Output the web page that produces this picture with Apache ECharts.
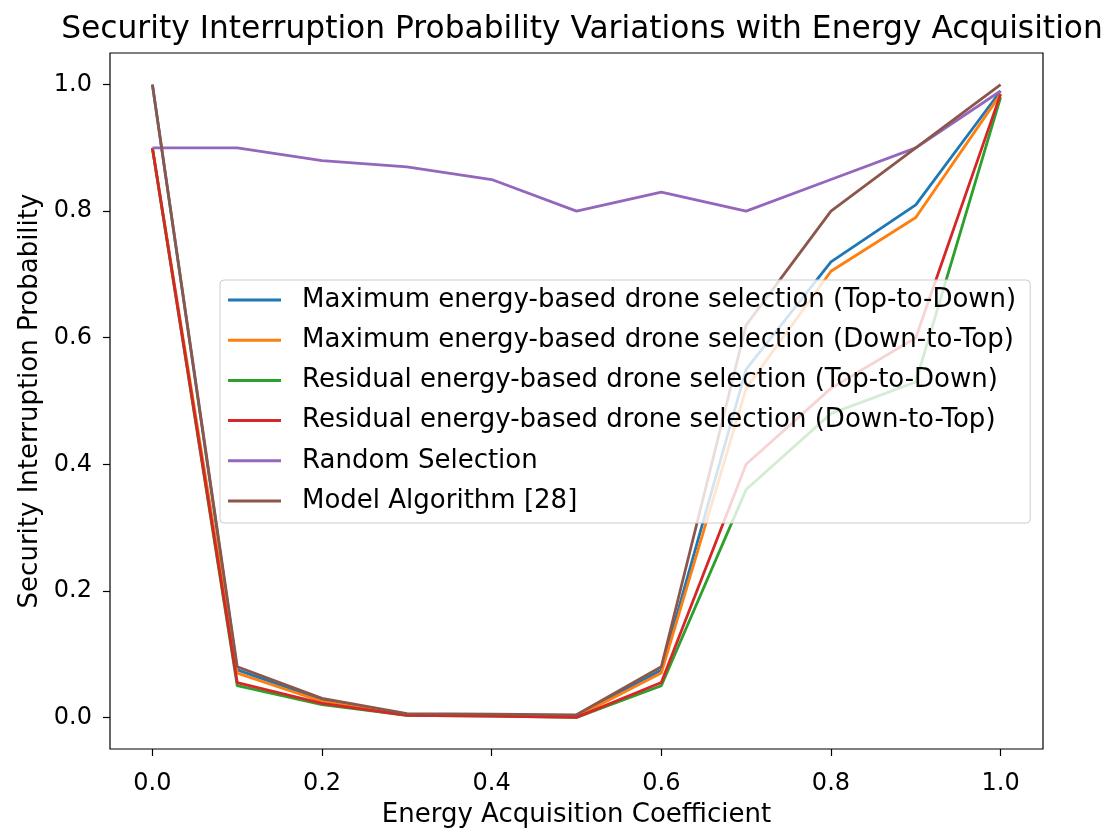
<!DOCTYPE html>
<html><head><meta charset="utf-8">
<script src="https://cdn.jsdelivr.net/npm/echarts@6/dist/echarts.min.js"></script>
<style>html,body{margin:0;padding:0;background:#fff}#c{width:1102px;height:828px}</style>
</head><body><div id="c"></div>
<script>
const xValues = [0.0, 0.1, 0.2, 0.3, 0.4, 0.5, 0.6, 0.7, 0.8, 0.9, 1.0];
const maxTopDown   = [1.0, 0.075, 0.028, 0.005, 0.003, 0.002, 0.075, 0.55, 0.72, 0.81, 0.99];
const maxDownTop   = [0.9, 0.07, 0.025, 0.004, 0.003, 0.001, 0.07, 0.52, 0.705, 0.79, 0.985];
const resTopDown   = [0.9, 0.05, 0.02, 0.003, 0.002, 0.0, 0.05, 0.36, 0.48, 0.53, 0.98];
const resDownTop   = [0.9, 0.055, 0.022, 0.003, 0.002, 0.0, 0.055, 0.40, 0.52, 0.60, 0.985];
const randomSel    = [0.9, 0.9, 0.88, 0.87, 0.85, 0.80, 0.83, 0.80, 0.85, 0.90, 0.99];
const modelAlg     = [1.0, 0.08, 0.03, 0.006, 0.005, 0.004, 0.08, 0.62, 0.80, 0.90, 1.0];
const tickValues = [0.0, 0.2, 0.4, 0.6, 0.8, 1.0];
const seriesNames = [
  'Maximum energy-based drone selection (Top-to-Down)',
  'Maximum energy-based drone selection (Down-to-Top)',
  'Residual energy-based drone selection (Top-to-Down)',
  'Residual energy-based drone selection (Down-to-Top)',
  'Random Selection',
  'Model Algorithm [28]'
];
const seriesValues = [maxTopDown, maxDownTop, resTopDown, resDownTop, randomSel, modelAlg];
const colors = ['#1f77b4', '#ff7f0e', '#2ca02c', '#d62728', '#9467bd', '#8c564b'];

const font = 'DejaVu Sans';
const chart = echarts.init(document.getElementById('c'), null, {renderer: 'canvas'});
chart.setOption({
  animation: false,
  backgroundColor: '#fff',
  color: colors,
  title: {
    text: 'Security Interruption Probability Variations with Energy Acquisition',
    left: 577, top: 9, textAlign: 'center',
    textStyle: {fontFamily: font, fontSize: 31.3, fontWeight: 'normal', color: '#000'}
  },
  grid: {left: 110, right: 59, top: 53, bottom: 79, show: true, borderColor: '#000', borderWidth: 1.2,
         containLabel: false, outerBoundsMode: 'none'},
  legend: {
    orient: 'vertical', left: 220, top: 280,
    icon: 'rect', itemWidth: 53, itemHeight: 3, itemGap: 14.2,
    padding: [7, 14, 9, 8],
    backgroundColor: 'rgba(255,255,255,0.8)',
    borderColor: '#cccccc', borderWidth: 1, borderRadius: 4,
    textStyle: {fontFamily: font, fontSize: 26, color: '#000', padding: [0, 0, 0, 16]},
    data: seriesNames
  },
  xAxis: {
    type: 'value', min: -0.05, max: 1.05,
    name: 'Energy Acquisition Coefficient', nameLocation: 'middle', nameGap: 53,
    nameTextStyle: {fontFamily: font, fontSize: 26, color: '#000'},
    axisLine: {show: false, onZero: false},
    axisTick: {show: true, length: 7, lineStyle: {color: '#000', width: 1.2}, customValues: tickValues},
    axisLabel: {fontFamily: font, fontSize: 24, color: '#000', margin: 23, customValues: tickValues, formatter: v => v.toFixed(1)},
    splitLine: {show: false}
  },
  yAxis: {
    type: 'value', min: -0.05, max: 1.05,
    name: 'Security Interruption Probability', nameLocation: 'middle', nameGap: 67,
    nameTextStyle: {fontFamily: font, fontSize: 26, color: '#000'},
    axisLine: {show: false, onZero: false},
    axisTick: {show: true, length: 7, lineStyle: {color: '#000', width: 1.2}, customValues: tickValues},
    axisLabel: {fontFamily: font, fontSize: 24, color: '#000', margin: 18, customValues: tickValues, formatter: v => v.toFixed(1)},
    splitLine: {show: false}
  },
  series: seriesNames.map((n, i) => ({
    name: n, type: 'line', symbol: 'none', smooth: false,
    lineStyle: {width: 2.8, color: colors[i]},
    itemStyle: {color: colors[i]},
    data: xValues.map((x, j) => [x, seriesValues[i][j]])
  }))
});
</script></body></html>
